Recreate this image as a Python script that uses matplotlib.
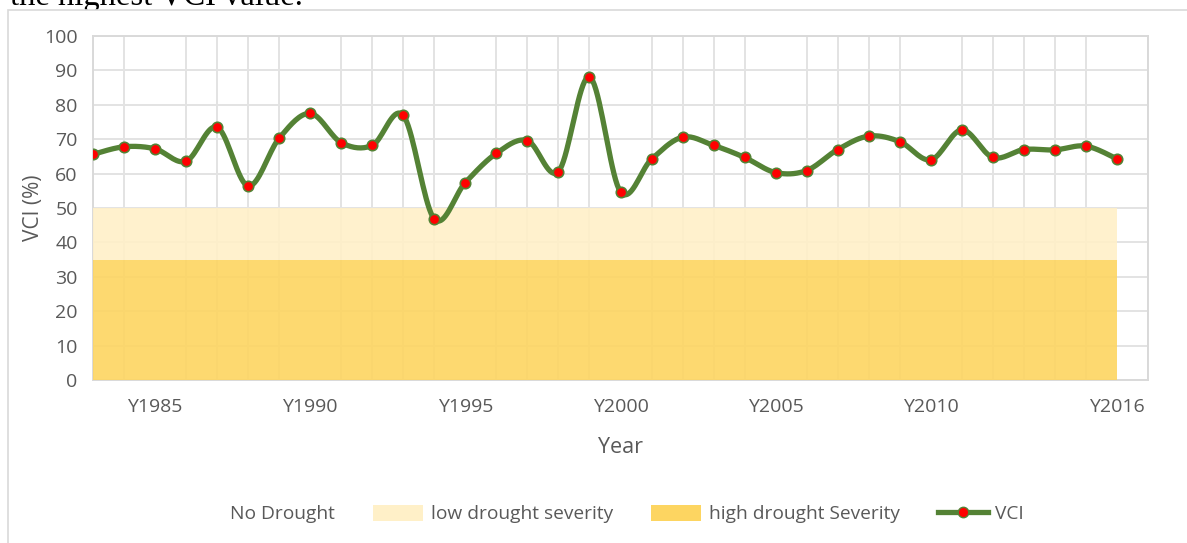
import numpy as np
import matplotlib
matplotlib.use('Agg')
import matplotlib.pyplot as plt
from matplotlib.patches import Patch, Rectangle
from matplotlib.lines import Line2D

# Datos
years = list(range(1983, 2017))
vci = [65.6, 67.8, 67.2, 63.6, 73.5, 56.4, 70.3, 77.5, 69.0, 68.2,
       76.9, 46.8, 57.4, 65.9, 69.6, 60.6, 88.1, 54.7, 64.2, 70.6,
       68.2, 64.7, 60.3, 60.9, 67.0, 70.9, 69.3, 64.0, 72.7, 64.7,
       67.0, 66.9, 68.0, 64.3]
tick_years = [1985, 1990, 1995, 2000, 2005, 2010, 2016]
tick_labels = ['Y1985', 'Y1990', 'Y1995', 'Y2000', 'Y2005', 'Y2010', 'Y2016']
no_drought_top = 100
low_drought_top = 50
high_drought_top = 35

gris = '#595959'
plt.rcParams['font.family'] = ['Open Sans', 'DejaVu Sans']


def suavizar(x, y, n=20):
    # curva suavizada tipo Excel (bezier por tramos)
    pts = np.column_stack([x, y]).astype(float)
    ext = np.vstack([pts[0], pts, pts[-1]])
    t = np.linspace(0, 1, n)[:, None]
    tramos = []
    for i in range(len(pts) - 1):
        p0, p1, p2, p3 = ext[i:i + 4]
        c1 = p1 + (p2 - p0) / 6
        c2 = p2 - (p3 - p1) / 6
        seg = (1 - t) ** 3 * p1 + 3 * (1 - t) ** 2 * t * c1 + 3 * (1 - t) * t ** 2 * c2 + t ** 3 * p2
        tramos.append(seg if i == 0 else seg[1:])
    return np.vstack(tramos)


W, H = 1187, 543
fig = plt.figure(figsize=(W / 100, H / 100), dpi=100)

# texto del documento (cortado arriba) y marco del grafico encima
fig.text(10 / W, 1 - 5.5 / H, 'the highest VCI value.', family='Liberation Serif',
         fontsize=23.5, color='black', va='baseline', zorder=1)
fig.add_artist(Rectangle((8 / W, -0.1), 1.0, 1 - 10 / H + 0.1, transform=fig.transFigure,
                         facecolor='white', edgecolor='#d9d9d9', lw=1.2, zorder=2))

ax = fig.add_axes([93 / W, 1 - 380 / H, (1148 - 93) / W, (380 - 36) / H])
ax.set_zorder(5)
ax.patch.set_alpha(0)

# bandas de sequia
ax.fill_between(years, low_drought_top, no_drought_top, color='white', alpha=0, zorder=1)
ax.fill_between(years, high_drought_top, low_drought_top, color='#fff0c8', alpha=0.9, lw=0, zorder=3)
ax.fill_between(years, 0, high_drought_top, color='#fdd561', alpha=0.9, lw=0, zorder=3)

curva = suavizar(years, vci)
ax.plot(curva[:, 0], curva[:, 1], color='#548235', lw=3.8, zorder=4, solid_capstyle='round')
ax.plot(years, vci, ls='none', marker='o', ms=7.5, mfc='#ff0000', mec='#548235', mew=1.2, zorder=5)

ax.set_xlim(1983, 2017)
ax.set_ylim(0, 100)
ax.set_yticks(range(0, 101, 10))
ax.set_xticks(tick_years)
ax.set_xticklabels(tick_labels)
ax.set_xticks(range(1983, 2018), minor=True)
ax.grid(which='minor', axis='x', color='#e3e3e3', lw=1.4, zorder=2)
ax.grid(which='major', axis='y', color='#e3e3e3', lw=1.4, zorder=2)
ax.set_axisbelow(True)
ax.tick_params(which='both', length=0, colors=gris, labelsize=14)
ax.tick_params(axis='x', pad=13)
ax.tick_params(axis='y', pad=11)
for s in ax.spines.values():
    s.set_color('#d9d9d9')
    s.set_linewidth(1.4)

ax.set_ylabel('VCI (%)', color=gris, fontsize=15, labelpad=0)
ax.set_xlabel('Year', color=gris, fontsize=15.5, labelpad=15)

handles = [
    Patch(facecolor='white', edgecolor='none', label='No Drought'),
    Patch(facecolor='#fff0c8', edgecolor='none', label='low drought severity'),
    Patch(facecolor='#fdd561', edgecolor='none', label='high drought Severity'),
    Line2D([0], [0], color='#548235', lw=3.8, marker='o', ms=7.5, mfc='#ff0000', mec='#548235', label='VCI'),
]
leg = fig.legend(handles=handles, loc='center', bbox_to_anchor=(0.504, 1 - 514 / H), ncol=4,
                 frameon=False, fontsize=13.8, labelcolor=gris, handlelength=2.6, handleheight=0.9,
                 columnspacing=2.0, handletextpad=0.4)
leg.set_zorder(6)

fig.savefig('out.png', dpi=100)
